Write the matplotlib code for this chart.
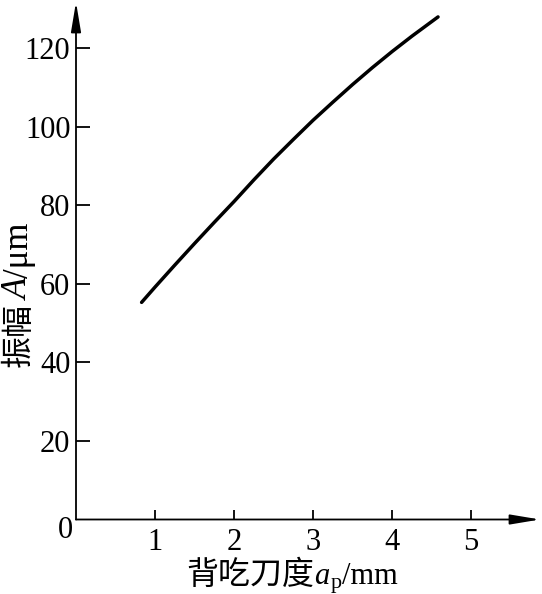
import matplotlib
matplotlib.use("Agg")
import matplotlib.pyplot as plt

# data
depth_mm = [0.83, 1.0, 1.25, 1.5, 1.75, 2.0, 2.25, 2.5, 2.75, 3.0, 3.25, 3.5, 3.75, 4.0, 4.25, 4.58]
amplitude_um = [55.3, 59.2, 64.8, 70.3, 75.7, 81.0, 86.5, 91.8, 96.8, 101.7, 106.3, 110.8, 115.1, 119.2, 123.1, 128.0]
xticks = [1, 2, 3, 4, 5]
yticks = [20, 40, 60, 80, 100, 120]
xlabel_parts = ['背吃刀度', 'a', 'p', '/mm']
ylabel_parts = ['振幅', 'A', '/μm']

plt.rcParams['font.family'] = ['Liberation Serif', 'Noto Sans CJK SC', 'DejaVu Sans']

W, H = 542, 594
fig = plt.figure(figsize=(W / 100, H / 100), dpi=100)
ax = fig.add_axes([76 / W, 74.5 / H, 464 / W, 517.5 / H])
ax.set_xlim(0, 5.87)
ax.set_ylim(0, 131.8)

ax.plot(depth_mm, amplitude_um, color='black', lw=2.5, solid_capstyle='round')

for s in ax.spines.values():
    s.set_visible(False)

arrow = dict(arrowstyle='-|>,head_length=1.8,head_width=0.3', color='black',
             lw=1.3, shrinkA=0, shrinkB=0, mutation_scale=10)
ax.annotate('', xy=(1, 0), xytext=(0, 0), xycoords='axes fraction',
            textcoords='axes fraction', arrowprops=arrow)
ax.annotate('', xy=(0, 1), xytext=(0, 0), xycoords='axes fraction',
            textcoords='axes fraction', arrowprops=arrow)

ax.set_xticks(xticks)
ax.set_yticks(yticks)
ax.set_xticklabels([str(v) for v in xticks])
ax.set_yticklabels([str(v) for v in yticks])
ax.tick_params(axis='y', direction='in', length=10, width=1.3, labelsize=22, pad=4)
ax.tick_params(axis='x', direction='in', length=7.5, width=1.3, labelsize=22, pad=6)

ax.text(-3 / 464, -19 / 517.5, '0', transform=ax.transAxes, ha='right',
        va='baseline', fontsize=22)

fig.canvas.draw()
renderer = fig.canvas.get_renderer()


def text_width(s, **kw):
    t = fig.text(0, 0, s, **kw)
    w = t.get_window_extent(renderer).width
    t.remove()
    return w


cn_kw = dict(fontsize=23, family=['Noto Sans CJK SC'])
it_kw = dict(fontsize=22, style='italic')
en_kw = dict(fontsize=22)
sub_kw = dict(fontsize=16)

# x label: pieces on a common baseline, centred at x=292 px
xpieces = [(xlabel_parts[0], cn_kw, 0, 0),
           (xlabel_parts[1], it_kw, 0, 1),
           (xlabel_parts[2], sub_kw, -4, 1),
           (xlabel_parts[3], en_kw, 0, 0)]
widths = [text_width(s, **kw) + extra for s, kw, _, extra in xpieces]
x = 292 - sum(widths) / 2
yb = H - 584
for (s, kw, dy, extra), w in zip(xpieces, widths):
    fig.text(x / W, (yb + dy) / H, s, ha='left', va='baseline', **kw)
    x += w

# y label: rotated pieces, centred at y=295 px, baseline at x=28 px
ycn_kw = dict(fontsize=23, family=['Noto Sans CJK SC'])
yit_kw = dict(fontsize=25, style='italic')
yen_kw = dict(fontsize=25)
ypieces = [(ylabel_parts[0], ycn_kw, 3),
           (ylabel_parts[1], yit_kw, 1),
           (ylabel_parts[2], yen_kw, 0)]
widths = [text_width(s, **kw) + extra for s, kw, extra in ypieces]
y = (H - 295) - sum(widths) / 2
xb = 28
for (s, kw, extra), w in zip(ypieces, widths):
    fig.text(xb / W, y / H, s, rotation=90, rotation_mode='anchor',
             ha='left', va='baseline', **kw)
    y += w

fig.savefig('out.png', dpi=100, facecolor='white')
